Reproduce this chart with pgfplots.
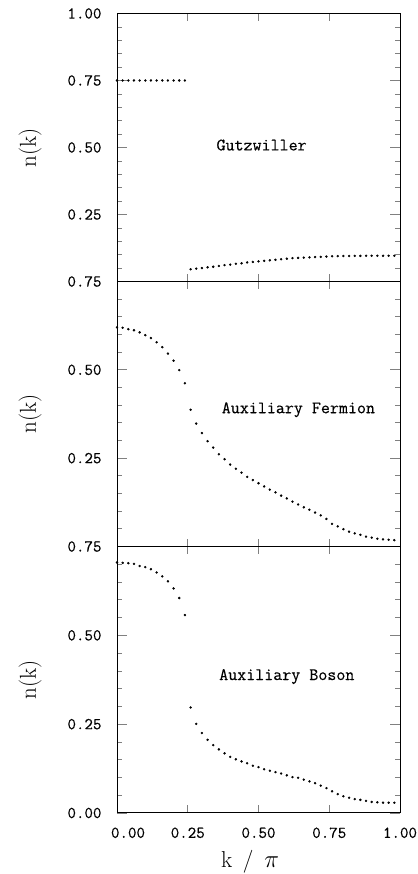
\documentclass[border=0pt]{standalone}
\usepackage{fontspec}
\usepackage{pgfplots}
\pgfplotsset{compat=1.18}
\newfontfamily\labfont{Latin Modern Mono}[FakeBold=0.3]
\tikzset{lab/.style={font=\fontsize{17.5}{20}\selectfont\labfont},
  dots/.style={only marks, mark=*, mark size=1pt, black}}
\begin{document}
\begin{tikzpicture}
\path[use as bounding box] (0,0) rectangle (417pt,874pt);
\pgfplotsset{
  panel/.style={
    scale only axis, width=283pt, xmin=0, xmax=1, ymin=0,
    anchor=south west,
    axis line style={line width=1pt},
    tick align=inside, tick pos=both,
    xtick={0,0.25,0.5,0.75,1},
    xtick style={/pgfplots/major tick length=7.5pt, line width=0.7pt},
    ytick style={line width=0.7pt},
    minor tick style={line width=0.6pt},
    major tick length=10pt, minor tick length=5pt,
    minor y tick num=4,
    /pgf/number format/assume math mode=true,
    tick label style={font=\fontsize{16.5}{18}\selectfont\labfont},
    yticklabel style={xshift=-12pt},
    xticklabel style={yshift=-11pt},
    ylabel={n(k)},
    every axis y label/.style={at={(axis description cs:-0.307,0.5)}, rotate=90, anchor=center, font=\fontsize{23}{26}\selectfont},
    clip=false,
  },
}
% ---------- Gutzwiller ----------
\begin{axis}[panel, at={(117pt,592.5pt)}, height=268pt, ymax=1,
  ytick={0,0.25,0.5,0.75,1}, yticklabels={,0.25,0.50,0.75,1.00},
  xticklabels={}]
\addplot[dots] coordinates {(0.00,0.75)(0.02,0.75)(0.04,0.75)(0.06,0.75)(0.08,0.75)(0.10,0.75)(0.12,0.75)(0.14,0.75)(0.16,0.75)(0.18,0.75)(0.20,0.75)(0.22,0.75)(0.24,0.75)};
\addplot[dots] coordinates {(0.26,0.0455)(0.28,0.048)(0.30,0.050)(0.32,0.053)(0.34,0.055)(0.36,0.058)(0.38,0.061)(0.40,0.063)(0.42,0.066)(0.44,0.068)(0.46,0.071)(0.48,0.073)(0.50,0.075)(0.52,0.077)(0.54,0.079)(0.56,0.081)(0.58,0.083)(0.60,0.085)(0.62,0.087)(0.64,0.088)(0.66,0.089)(0.68,0.090)(0.70,0.091)(0.72,0.092)(0.74,0.093)(0.76,0.094)(0.78,0.0945)(0.80,0.095)(0.82,0.095)(0.84,0.0955)(0.86,0.0955)(0.88,0.096)(0.90,0.096)(0.92,0.096)(0.94,0.096)(0.96,0.096)(0.98,0.096)};
\node[lab] at (axis cs:0.511,0.509) {Gutzwiller};
\end{axis}
% ---------- Auxiliary Fermion ----------
\begin{axis}[panel, at={(117pt,327.5pt)}, height=265pt, ymax=0.75,
  ytick={0,0.25,0.5,0.75}, yticklabels={,0.25,0.50,0.75},
  xticklabels={}]
\addplot[dots] coordinates {(0.00,0.620)(0.02,0.619)(0.04,0.615)(0.06,0.612)(0.08,0.606)(0.10,0.598)(0.12,0.590)(0.14,0.578)(0.16,0.564)(0.18,0.546)(0.20,0.526)(0.22,0.499)(0.24,0.462)};
\addplot[dots] coordinates {(0.26,0.387)(0.28,0.348)(0.30,0.321)(0.32,0.298)(0.34,0.280)(0.36,0.261)(0.38,0.247)(0.40,0.232)(0.42,0.220)(0.44,0.209)(0.46,0.197)(0.48,0.188)(0.50,0.179)(0.52,0.170)(0.54,0.161)(0.56,0.153)(0.58,0.144)(0.60,0.136)(0.62,0.127)(0.64,0.119)(0.66,0.111)(0.68,0.104)(0.70,0.096)(0.72,0.088)(0.74,0.078)(0.76,0.064)(0.78,0.057)(0.80,0.049)(0.82,0.042)(0.84,0.037)(0.86,0.033)(0.88,0.028)(0.90,0.025)(0.92,0.022)(0.94,0.020)(0.96,0.019)(0.98,0.018)};
\node[lab] at (axis cs:0.641,0.387) {Auxiliary Fermion};
\end{axis}
% ---------- Auxiliary Boson ----------
\begin{axis}[panel, at={(117pt,61pt)}, height=266.5pt, ymax=0.75,
  ytick={0,0.25,0.5,0.75}, yticklabels={0.00,0.25,0.50,0.75},
  xticklabels={\hspace{22pt}0.00,0.25,0.50,0.75,1.00},
  xlabel={k\, /\, $\pi$},
  every axis x label/.style={at={(axis description cs:0.47,-0.206)}, anchor=base, font=\fontsize{23}{26}\selectfont}]
\addplot[dots] coordinates {(0.00,0.705)(0.02,0.704)(0.04,0.703)(0.06,0.701)(0.08,0.695)(0.10,0.692)(0.12,0.686)(0.14,0.677)(0.16,0.666)(0.18,0.652)(0.20,0.632)(0.22,0.605)(0.24,0.557)};
\addplot[dots] coordinates {(0.26,0.297)(0.28,0.251)(0.30,0.225)(0.32,0.206)(0.34,0.191)(0.36,0.179)(0.38,0.168)(0.40,0.158)(0.42,0.151)(0.44,0.145)(0.46,0.140)(0.48,0.133)(0.50,0.129)(0.52,0.123)(0.54,0.119)(0.56,0.115)(0.58,0.111)(0.60,0.106)(0.62,0.101)(0.64,0.099)(0.66,0.094)(0.68,0.089)(0.70,0.084)(0.72,0.077)(0.74,0.070)(0.76,0.061)(0.78,0.053)(0.80,0.047)(0.82,0.043)(0.84,0.039)(0.86,0.037)(0.88,0.034)(0.90,0.031)(0.92,0.030)(0.94,0.029)(0.96,0.029)(0.98,0.029)};
\node[lab] at (axis cs:0.60,0.384) {Auxiliary Boson};
\end{axis}
\end{tikzpicture}
\end{document}
